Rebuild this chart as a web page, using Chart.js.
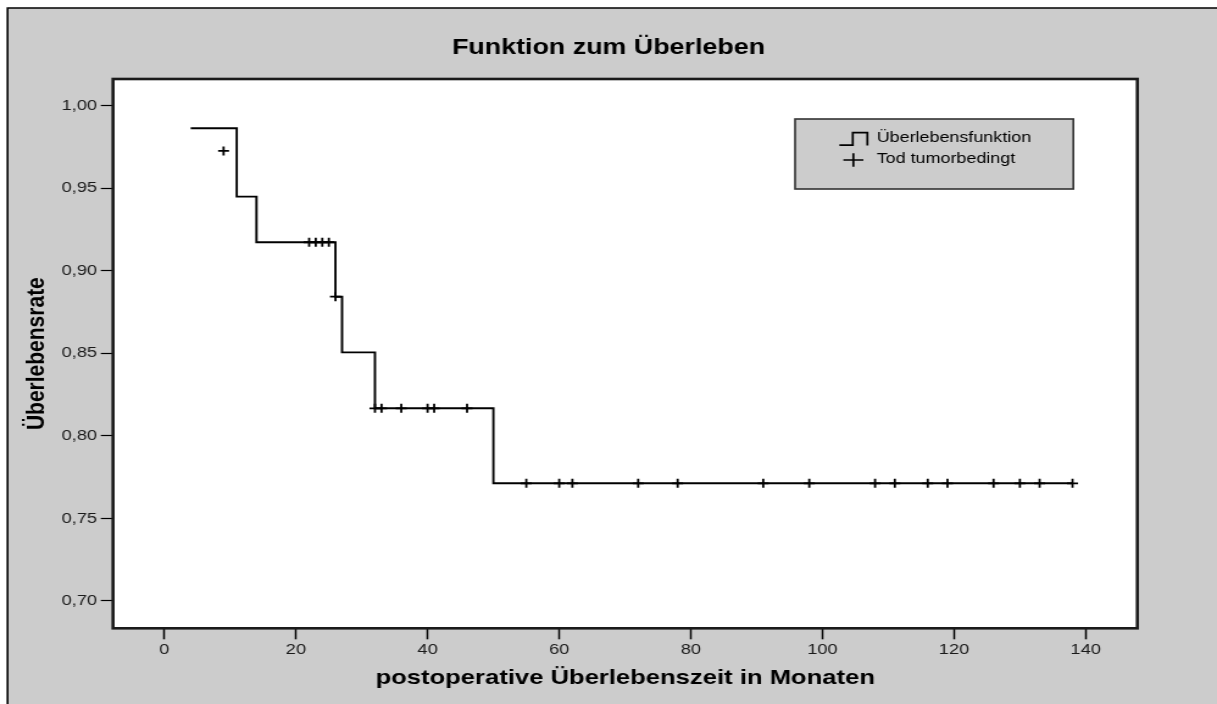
<!DOCTYPE html>
<html>
<head>
<meta charset="utf-8">
<script src="https://cdn.jsdelivr.net/npm/chart.js@4.4.1/dist/chart.umd.min.js"></script>
<style>
html,body{margin:0;padding:0;background:#fff;overflow:hidden}
</style>
</head>
<body>
<canvas id="c" width="998" height="704" style="display:block;width:1217px;height:704px"></canvas>
<script>
// ---- texts ----
const chartTitle = 'Funktion zum Überleben';
const xAxisTitle = 'postoperative Überlebenszeit in Monaten';
const yAxisTitle = 'Überlebensrate';
const seriesNames = ['Überlebensfunktion', 'Tod tumorbedingt'];

// ---- step function (Kaplan-Meier) ----
const stepTimes    = [4, 11, 14, 26, 27, 32, 50, 138];
const stepSurvival = [0.9863, 0.9449, 0.9173, 0.8843, 0.8506, 0.8167, 0.7713, 0.7713];

// ---- censor marks (+) ----
const censorTimes    = [9, 22, 23, 24, 25, 26, 32, 33, 36, 40, 41, 46,
                        55, 60, 62, 72, 78, 91, 98, 108, 111, 116, 119, 126, 130, 133, 138];
const censorSurvival = [0.9726, 0.9173, 0.9173, 0.9173, 0.9173, 0.8843,
                        0.8167, 0.8167, 0.8167, 0.8167, 0.8167, 0.8167,
                        0.7713, 0.7713, 0.7713, 0.7713, 0.7713, 0.7713, 0.7713, 0.7713,
                        0.7713, 0.7713, 0.7713, 0.7713, 0.7713, 0.7713, 0.7713];

// ---- ticks ----
const xTickValues = [0, 20, 40, 60, 80, 100, 120, 140];
const xTickLabels = ['0', '20', '40', '60', '80', '100', '120', '140'];
const yTickValues = [0.70, 0.75, 0.80, 0.85, 0.90, 0.95, 1.00];
const yTickLabels = ['0,70', '0,75', '0,80', '0,85', '0,90', '0,95', '1,00'];

const FONT = '"Liberation Sans", Arial, Helvetica, sans-serif';
const GRAY = '#cccccc';

const framePlugin = {
  id: 'frame',
  beforeDraw(chart) {
    const {ctx, chartArea: a, width, height} = chart;
    ctx.save();
    ctx.fillStyle = '#ffffff';
    ctx.fillRect(0, 0, width, height);
    ctx.fillStyle = GRAY;
    ctx.fillRect(6.2, 8, width, height);
    ctx.strokeStyle = '#000';
    ctx.lineWidth = 1.6;
    ctx.beginPath();
    ctx.moveTo(6.2, height + 5);
    ctx.lineTo(6.2, 8);
    ctx.lineTo(width + 5, 8);
    ctx.stroke();
    ctx.fillStyle = '#ffffff';
    ctx.fillRect(a.left, a.top, a.right - a.left, a.bottom - a.top);
    ctx.restore();
  },
  afterDraw(chart) {
    const {ctx, chartArea: a} = chart;
    ctx.save();
    // plot frame
    ctx.strokeStyle = '#1a1a1a';
    ctx.lineWidth = 2.6;
    ctx.strokeRect(a.left, a.top, a.right - a.left, a.bottom - a.top);
    // legend box
    const lx = 652, ly = 119, lw = 228.2, lh = 70;
    ctx.fillStyle = GRAY;
    ctx.fillRect(lx, ly, lw, lh);
    ctx.strokeStyle = '#333';
    ctx.lineWidth = 1.6;
    ctx.strokeRect(lx, ly, lw, lh);
    // step symbol
    ctx.strokeStyle = '#000';
    ctx.lineWidth = 1.7;
    ctx.beginPath();
    ctx.moveTo(688.3, 145.2);
    ctx.lineTo(699.3, 145.2);
    ctx.lineTo(699.3, 132.7);
    ctx.lineTo(711.3, 132.7);
    ctx.lineTo(711.3, 145.5);
    ctx.stroke();
    // plus symbol
    ctx.beginPath();
    ctx.moveTo(691.6, 160);
    ctx.lineTo(708.0, 160);
    ctx.moveTo(699.8, 153.3);
    ctx.lineTo(699.8, 166.7);
    ctx.stroke();
    // legend texts
    ctx.fillStyle = '#000';
    ctx.font = '14.7px ' + FONT;
    ctx.textAlign = 'left';
    ctx.textBaseline = 'middle';
    ctx.fillText(chart.data.datasets[0].label, 719, 137.5);
    ctx.fillText(chart.data.datasets[1].label, 719, 159.4);
    ctx.restore();
  }
};

const chart = new Chart(document.getElementById('c'), {
  type: 'line',
  data: {
    datasets: [
      {
        label: seriesNames[0],
        data: stepTimes.map((t, i) => ({x: t, y: stepSurvival[i]})),
        stepped: true,
        borderColor: '#000',
        borderWidth: 1.9,
        pointRadius: 0,
        fill: false
      },
      {
        label: seriesNames[1],
        data: censorTimes.map((t, i) => ({x: t, y: censorSurvival[i]})),
        showLine: false,
        pointStyle: 'cross',
        pointRadius: 4.5,
        pointBorderWidth: 1.8,
        pointBorderColor: '#000',
        pointBackgroundColor: '#000'
      }
    ]
  },
  options: {
    responsive: false,
    devicePixelRatio: 1,
    animation: false,
    events: [],
    layout: {padding: 0},
    plugins: {
      legend: {display: false},
      tooltip: {enabled: false},
      title: {
        display: true,
        text: chartTitle,
        color: '#000',
        font: {family: FONT, size: 22, weight: 'bold'},
        padding: {top: 34.3, bottom: 18.3}
      }
    },
    scales: {
      x: {
        type: 'linear',
        position: 'bottom',
        min: -7.8,
        max: 147.85,
        afterBuildTicks: s => { s.ticks = xTickValues.map(v => ({value: v})); },
        afterFit: s => { s.height = 75.7; },
        ticks: {
          color: '#1a1a1a',
          font: {family: FONT, size: 15},
          padding: 2,
          maxRotation: 0,
          autoSkip: false,
          callback: v => xTickLabels[xTickValues.indexOf(v)]
        },
        grid: {drawOnChartArea: false, drawTicks: true, tickLength: 11, tickColor: '#000', tickWidth: 1.5},
        border: {display: false},
        title: {
          display: true,
          text: xAxisTitle,
          color: '#000',
          font: {family: FONT, size: 21, weight: 'bold'},
          padding: {top: 0, bottom: 13.4}
        }
      },
      y: {
        type: 'linear',
        position: 'left',
        min: 0.68346,
        max: 1.01617,
        afterBuildTicks: s => { s.ticks = yTickValues.map(v => ({value: v})); },
        afterFit: s => { s.width = 92.67; },
        ticks: {
          color: '#1a1a1a',
          font: {family: FONT, size: 15},
          padding: 3,
          autoSkip: false,
          callback: v => yTickLabels[yTickValues.findIndex(t => Math.abs(t - v) < 1e-6)]
        },
        grid: {drawOnChartArea: false, drawTicks: true, tickLength: 10, tickColor: '#000', tickWidth: 1.2},
        border: {display: false},
        title: {
          display: true,
          text: yAxisTitle,
          color: '#000',
          font: {family: FONT, size: 21, weight: 'bold'},
          padding: {top: 17.4, bottom: 0}
        }
      },
      yRight: {
        type: 'linear',
        position: 'right',
        display: true,
        afterFit: s => { s.width = 65.33; },
        ticks: {display: false},
        grid: {display: false, drawTicks: false},
        border: {display: false}
      }
    }
  },
  plugins: [framePlugin]
});
// keep the horizontal stretch of the reference picture
chart.canvas.style.width = '1217px';
chart.canvas.style.height = '704px';
</script>
</body>
</html>
